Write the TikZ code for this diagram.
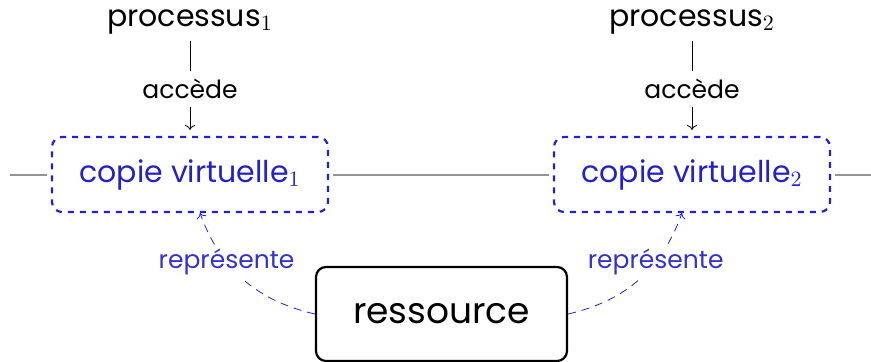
\documentclass[tikz,border=0pt]{standalone}
\usepackage{fontspec}
\setmainfont{Poppins}
\usetikzlibrary{positioning,arrows.meta}
\definecolor{vblue}{RGB}{34,34,200}
\definecolor{lblue}{RGB}{51,51,204}
\tikzset{
  vbox/.style={draw=vblue, dashed, rounded corners=5pt, line width=1.1pt, fill=white, text=vblue, minimum width=138pt, minimum height=37.5pt, font=\fontsize{15}{18}\selectfont},
  resbox/.style={draw, rounded corners=5pt, line width=1.1pt, fill=white, minimum width=125.5pt, minimum height=47pt, font=\fontsize{18}{22}\selectfont},
  proc/.style={font=\fontsize{15}{18}\selectfont},
  rail/.style={draw=black!42, line width=1pt, shorten <=2pt, shorten >=2pt},
  acclabel/.style={fill=white, font=\fontsize{12.5}{15}\selectfont, inner sep=4pt},
  replabel/.style={fill=white, text=lblue, font=\fontsize{12.5}{15}\selectfont, inner sep=2pt},
  repline/.style={->, draw=vblue, dash pattern=on 4pt off 3pt, thin}
}
\begin{document}
\begin{tikzpicture}[x=0.5pt, y=0.5pt]
  \useasboundingbox (0,0) rectangle (871,361);
  % processes and their virtual copies
  \node[proc] (p1) at (190,339) {processus$_1$};
  \node[proc] (p2) at (692,339) {processus$_2$};
  \node[vbox] (c1) at (190,186.5) {copie virtuelle$_1$};
  \node[vbox] (c2) at (692,186.5) {copie virtuelle$_2$};
  \coordinate (lend) at (6,186.5);
  \coordinate (rend) at (880,186.5);
  \draw[rail] (lend) -- (c1);
  \draw[rail] (c1) -- (c2);
  \draw[rail] (c2) -- (rend);
  \draw[->, shorten >=3pt] (p1) -- node[acclabel] {accède} (c1);
  \draw[->, shorten >=3pt] (p2) -- node[acclabel] {accède} (c2);
  % the shared resource
  \node[resbox] (res) at (441.5,47) {ressource};
  \draw[repline] (res.west) to[out=167, in=-70] node[replabel, pos=0.66] {représente} ([xshift=5pt]c1.south);
  \draw[repline] (res.east) to[out=13, in=-110] node[replabel, pos=0.66] {représente} ([xshift=-5pt]c2.south);
\end{tikzpicture}
\end{document}
